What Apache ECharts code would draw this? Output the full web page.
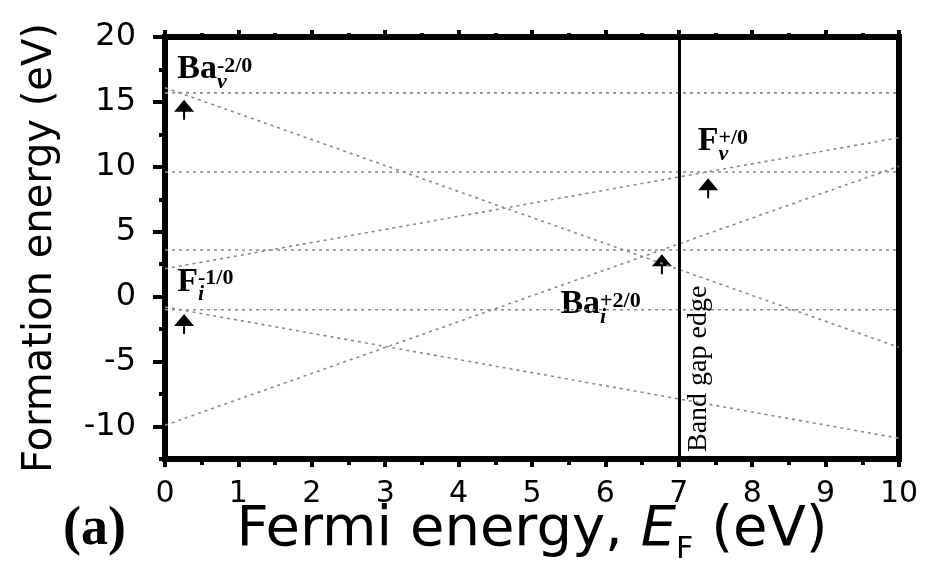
<!DOCTYPE html>
<html>
<head>
<meta charset="utf-8">
<script src="https://cdn.jsdelivr.net/npm/echarts@6/dist/echarts.min.js"></script>
<style>
  html, body { margin: 0; padding: 0; background: #fff; }
  #chart { width: 929px; height: 565px; }
</style>
</head>
<body>
<div id="chart"></div>
<script>
// Fermi energy range (eV) - every defect line goes from one end to the other
const fermi = [0, 10];
// charged defects, formation energy at E_F = 0 and E_F = 10
const baVac = [16.1, -3.9];   // Ba_v -2
const fInt = [-0.8, -10.9];   // F_i -1
const baInt = [-9.9, 10.05];  // Ba_i +2
const fVac = [2.15, 12.25];   // F_v +1
// neutral defects (flat lines)
const neutral = [15.7, 9.6, 3.6, -1.0];
const bandGap = 7;

// axis ticks
const yTicks = [-10, -5, 0, 5, 10, 15, 20];
const yMinorTicks = [-12.5, -7.5, -2.5, 2.5, 7.5, 12.5, 17.5];

// transition level arrows [E_F, E]
const arrows = [[0.26, 14.4], [0.26, -2.1], [6.77, 2.5], [7.4, 8.35]];
// defect names: [E_F, E, name, site, charge]
const notes = [
    [0.16, 17.45, 'Ba', 'v', '-2/0'],
    [0.16, 1.1, 'F', 'i', '-1/0'],
    [5.38, -0.65, 'Ba', 'i', '+2/0'],
    [7.25, 11.9, 'F', 'v', '+/0']
];

const serif = 'Liberation Serif, Times New Roman, serif';
const sans = 'DejaVu Sans, sans-serif';
const dotted = { color: '#8a8a8a', width: 1.6, type: [3, 4] };

function lineOf(vals) {
    return fermi.map((x, i) => [x, vals[i]]);
}

const series = [];
[baVac, fInt, baInt, fVac].forEach(v => {
    series.push({
        type: 'line',
        data: lineOf(v),
        symbol: 'none',
        silent: true,
        lineStyle: dotted
    });
});
neutral.forEach(v => {
    series.push({
        type: 'line',
        data: lineOf([v, v]),
        symbol: 'none',
        silent: true,
        lineStyle: dotted
    });
});
// band gap edge
series[0].markLine = {
    silent: true,
    symbol: ['none', 'none'],
    lineStyle: { color: '#000', width: 3, type: 'solid' },
    label: {
        show: true,
        formatter: 'Band gap edge',
        position: 'insideStartBottom',
        fontFamily: serif,
        fontSize: 28,
        color: '#000',
        padding: [0, 0, 0, 5],
        distance: [2, 6]
    },
    data: [[{ coord: [bandGap, -12.5] }, { coord: [bandGap, 20] }]]
};
series.push({
    type: 'scatter',
    silent: true,
    symbol: 'path://M10 0 L20 12 L11 12 L11 20 L9 20 L9 12 L0 12 Z',
    symbolSize: [20, 20],
    itemStyle: { color: '#000', opacity: 1 },
    data: arrows
});
// name + charge on the first line, site subscript on a second line under the charge
const tok = { fontFamily: serif, fontWeight: 'bold', color: '#000' };
series.push({
    type: 'scatter',
    silent: true,
    symbolSize: 1,
    itemStyle: { color: 'transparent', opacity: 1 },
    label: {
        show: true,
        position: 'right',
        distance: 0,
        color: '#000',
        formatter: p => '{b|' + p.data[2] + '}{p|' + p.data[4] + '}\n{h|' + p.data[2] + '}{s|' + p.data[3] + '}',
        rich: {
            b: Object.assign({ fontSize: 34, lineHeight: 24, padding: [5, 0, 0, 0] }, tok),
            p: Object.assign({ fontSize: 22, lineHeight: 1, verticalAlign: 'top' }, tok),
            h: Object.assign({ fontSize: 34, lineHeight: 6 }, tok, { color: 'transparent' }),
            s: Object.assign({ fontStyle: 'italic', fontSize: 22, lineHeight: 6 }, tok)
        }
    },
    data: notes
});

const chart = echarts.init(document.getElementById('chart'));
chart.setOption({
    animation: false,
    title: {
        text: '(a)',
        left: 58,
        top: 498,
        textStyle: { fontFamily: serif, fontWeight: 'bold', fontSize: 54, color: '#000' }
    },
    grid: {
        left: 165, right: 30, top: 37, bottom: 106,
        containLabel: false,
        outerBoundsMode: 'none',
        show: true, borderColor: '#000', borderWidth: 6
    },
    xAxis: [{
        type: 'value',
        min: 0, max: 10, interval: 1,
        position: 'bottom',
        axisLine: { show: false, onZero: false },
        axisTick: { inside: false, length: 8, lineStyle: { color: '#000', width: 4 } },
        minorTick: { show: true, splitNumber: 2, length: 6, lineStyle: { color: '#000', width: 4 } },
        splitLine: { show: false },
        axisLabel: { fontFamily: sans, fontSize: 30, color: '#000', margin: 20 },
        name: '{n|Fermi energy, }{e|E}{f|F}{n| (eV)}',
        nameLocation: 'middle',
        nameGap: 43,
        nameMoveOverlap: false,
        nameTextStyle: {
            rich: {
                n: { fontFamily: sans, fontSize: 56, lineHeight: 55, color: '#000', verticalAlign: 'top' },
                e: { fontFamily: sans, fontStyle: 'italic', fontSize: 56, lineHeight: 55, color: '#000', verticalAlign: 'top' },
                f: { fontFamily: sans, fontSize: 30, lineHeight: 30, padding: [33, 0, 0, 0], color: '#000', verticalAlign: 'top' }
            }
        }
    }, {
        type: 'value',
        min: 0, max: 10, interval: 1,
        position: 'top',
        axisLine: { show: false, onZero: false },
        axisTick: { length: 7, lineStyle: { color: '#000', width: 4 } },
        minorTick: { show: true, splitNumber: 2, length: 4, lineStyle: { color: '#000', width: 4 } },
        splitLine: { show: false },
        axisLabel: { show: false }
    }],
    yAxis: [{
        type: 'value',
        min: -12.5, max: 20,
        position: 'left',
        axisLine: { show: false, onZero: false },
        axisTick: { customValues: yTicks, length: 12, lineStyle: { color: '#000', width: 4 } },
        splitLine: { show: false },
        axisLabel: { customValues: yTicks, fontFamily: sans, fontSize: 32, color: '#000', margin: 29 },
        name: 'Formation energy (eV)',
        nameLocation: 'middle',
        nameGap: 104,
        nameMoveOverlap: false,
        nameTextStyle: { fontFamily: sans, fontSize: 40, color: '#000' }
    }, {
        type: 'value',
        min: -12.5, max: 20,
        position: 'left',
        axisLine: { show: false, onZero: false },
        axisTick: { customValues: yMinorTicks, length: 6, lineStyle: { color: '#000', width: 4 } },
        splitLine: { show: false },
        axisLabel: { show: false }
    }],
    series: series
});
</script>
</body>
</html>
